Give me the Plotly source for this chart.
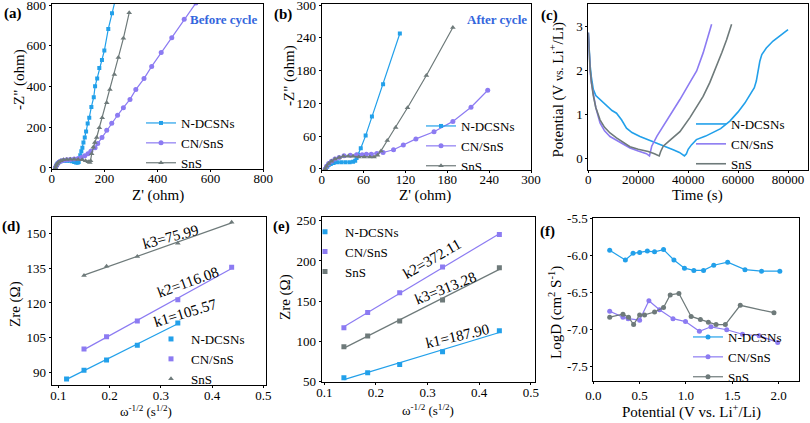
import plotly.graph_objects as go
import numpy as np

W, H = 810, 423
BLUE = "#22A0EA"
PURPLE = "#8C7BF2"
GRAY = "#6E7A7A"
FONT = "Liberation Serif, Times New Roman, serif"
NAMES = ["N-DCSNs", "CN/SnS", "SnS"]

# ---------------- (a) Nyquist, before cycle ----------------
a_ndcsns_x = [14, 16, 19, 23, 28, 34, 41, 49, 58, 67, 76, 85, 92, 98, 102, 105, 108, 112, 116, 120, 125, 130, 136, 142, 150, 159, 164, 172, 180, 190, 199, 214, 228, 245]
a_ndcsns_y = [0, 8, 16, 23, 29, 33, 35, 36, 36, 35, 33, 30, 27, 26, 30, 45, 62, 82, 100, 125, 150, 179, 218, 247, 300, 348, 401, 440, 491, 530, 577, 683, 760, 850]
a_cnsns_x = [14, 17, 21, 27, 35, 45, 57, 70, 85, 100, 113, 125, 137, 148, 164, 174, 190, 208, 227, 249, 271, 296, 318, 349, 378, 414, 454, 501, 545]
a_cnsns_y = [0, 10, 20, 28, 34, 38, 40, 42, 44, 46, 52, 60, 70, 82, 100, 120, 150, 185, 220, 259, 296, 337, 385, 439, 499, 567, 640, 731, 810]
a_sns_x = [14, 17, 21, 27, 35, 45, 57, 70, 85, 100, 115, 128, 138, 144, 147, 151, 157, 163, 170, 180, 191, 208, 220, 237, 252, 271, 293]
a_sns_y = [0, 12, 22, 30, 36, 40, 42, 43, 43, 42, 40, 36, 31, 27, 35, 70, 102, 125, 150, 198, 247, 320, 385, 459, 543, 637, 762]

# ---------------- (b) Nyquist, after cycle ----------------
b_ndcsns_x = [6, 8, 10, 13, 17, 22, 28, 34, 40, 45, 48, 50, 52, 56, 63, 72, 88, 112]
b_ndcsns_y = [0, 4, 7, 9, 11, 12, 12, 12, 12, 13, 15, 20, 26, 38, 61, 96, 155, 248]
b_cnsns_x = [5, 7, 10, 14, 19, 25, 32, 41, 50, 58, 64, 71, 79, 88, 103, 117, 135, 161, 188, 214, 238]
b_cnsns_y = [0, 5, 10, 14, 18, 21, 24, 25, 26, 26, 27, 27, 28, 30, 35, 44, 55, 68, 87, 113, 144]
b_sns_x = [5, 7, 10, 14, 19, 25, 31, 38, 45, 53, 61, 69, 75, 80, 85, 94, 106, 123, 150, 188]
b_sns_y = [0, 5, 10, 14, 18, 21, 23, 23, 23, 22, 22, 22, 22, 25, 33, 52, 76, 112, 171, 259]

# ---------------- (c) GITT potential vs time ----------------
c_ndcsns_t = [0, 300, 700, 1200, 2000, 3000, 4700, 7300, 9500, 11300, 13300, 15300, 17500, 20700, 24000, 27300, 31000, 34000, 36500, 38500, 39300, 40000, 41300, 43300, 47000, 50000, 53000, 56700, 60000, 62700, 65000, 66500, 67300, 68000, 68700, 69500, 71300, 74000, 77000, 80000]
c_ndcsns_v = [2.85, 2.4, 2.12, 1.85, 1.56, 1.42, 1.33, 1.18, 1.08, 1.02, 0.87, 0.68, 0.58, 0.49, 0.42, 0.34, 0.26, 0.19, 0.13, 0.05, 0.1, 0.2, 0.3, 0.42, 0.5, 0.58, 0.67, 0.84, 1.05, 1.25, 1.45, 1.6, 1.75, 2.0, 2.2, 2.35, 2.5, 2.66, 2.8, 2.92]
c_cnsns_t = [0, 300, 700, 1200, 2000, 3000, 4700, 6500, 8700, 11300, 14000, 16700, 20000, 23300, 24500, 25400, 27500, 30000, 33000, 36700, 40700, 43400, 46000, 48000, 49400]
c_cnsns_v = [2.85, 2.4, 2.0, 1.72, 1.5, 1.15, 0.8, 0.62, 0.49, 0.4, 0.31, 0.23, 0.16, 0.1, 0.05, 0.27, 0.5, 0.72, 1.0, 1.33, 1.72, 1.98, 2.39, 2.75, 3.04]
c_sns_t = [0, 300, 700, 1200, 2000, 3000, 4700, 6500, 8700, 11300, 14000, 16700, 20000, 24000, 26500, 28400, 29000, 30000, 33000, 36700, 40700, 43400, 46000, 48700, 51400, 53500, 55400, 57400]
c_sns_v = [2.85, 2.4, 2.05, 1.75, 1.42, 1.15, 0.87, 0.7, 0.57, 0.46, 0.35, 0.26, 0.2, 0.15, 0.1, 0.05, 0.15, 0.27, 0.42, 0.6, 0.92, 1.15, 1.4, 1.72, 2.09, 2.4, 2.69, 3.04]

# ---------------- (d) Zre vs w^-1/2, before cycle ----------------
d_ndcsns_x = [0.116, 0.150, 0.194, 0.254, 0.333]
d_ndcsns_y = [87.3, 91.0, 95.5, 101.8, 111.4]
d_cnsns_x = [0.150, 0.194, 0.254, 0.333, 0.438]
d_cnsns_y = [100.2, 105.5, 112.2, 121.4, 135.4]
d_sns_x = [0.150, 0.194, 0.254, 0.333, 0.438]
d_sns_y = [131.8, 135.8, 140.0, 145.7, 154.7]
d_slopes = ["k1=105.57", "k2=116.08", "k3=75.99"]

# ---------------- (e) Zre vs w^-1/2, after cycle ----------------
e_x = [0.138, 0.184, 0.246, 0.329, 0.439]
e_ndcsns_y = [55.0, 61.2, 71.5, 87.3, 113.4]
e_cnsns_y = [117.1, 136.1, 160.6, 192.4, 233.0]
e_sns_y = [93.5, 106.7, 125.4, 151.4, 191.6]
e_slopes = ["k1=187.90", "k2=372.11", "k3=313.28"]

# ---------------- (f) LogD vs potential ----------------
f_ndcsns_x = [0.177, 0.346, 0.429, 0.50, 0.583, 0.661, 0.758, 0.87, 0.984, 1.085, 1.19, 1.30, 1.45, 1.637, 1.816, 2.013]
f_ndcsns_y = [-5.93, -6.06, -5.97, -5.96, -5.94, -5.95, -5.92, -6.06, -6.17, -6.20, -6.20, -6.13, -6.09, -6.19, -6.21, -6.21]
f_cnsns_x = [0.177, 0.32, 0.376, 0.50, 0.60, 0.715, 0.86, 0.995, 1.145, 1.27, 1.44, 1.61, 1.79, 1.99]
f_cnsns_y = [-6.75, -6.83, -6.85, -6.87, -6.61, -6.73, -6.85, -6.89, -7.02, -6.96, -7.00, -7.06, -7.08, -7.17]
f_sns_x = [0.177, 0.32, 0.38, 0.435, 0.50, 0.553, 0.661, 0.758, 0.83, 0.924, 1.056, 1.156, 1.242, 1.325, 1.425, 1.586, 1.95]
f_sns_y = [-6.83, -6.79, -6.83, -6.93, -6.80, -6.80, -6.76, -6.70, -6.53, -6.51, -6.82, -6.86, -6.90, -6.93, -6.93, -6.67, -6.77]
f_yticks = [-5.5, -6.0, -6.5, -7.0, -7.5]
f_yticktext = ["-5.5", "-6.0", "-6.5", "-7.0", "-7.5"]

COLORS = [BLUE, PURPLE, GRAY]


def fx(px):
    return px / W


def fy(py):
    return 1 - py / H


fig = go.Figure()

# panel boxes in pixels: (left, right, top, bottom)
boxes = {
    1: (51.7, 263.3, 3.5, 169.0),
    2: (321.7, 531.0, 4.0, 170.0),
    3: (588.3, 808.0, 4.0, 170.0),
    4: (51.7, 266.0, 216.7, 385.0),
    5: (321.7, 535.0, 216.7, 381.7),
    6: (593.3, 799.0, 217.7, 381.0),
}
x_standoff = {1: -5, 2: -5, 3: -5, 4: -4, 5: -3, 6: 0}


def ax_names(i):
    return ("x" if i == 1 else f"x{i}"), ("y" if i == 1 else f"y{i}")


def add_lm(i, xs, ys, color, symbol, size, name, legend, width=1.2):
    xa, ya = ax_names(i)
    fig.add_trace(go.Scatter(x=xs, y=ys, mode="lines+markers", name=name,
                             line=dict(color=color, width=width),
                             marker=dict(symbol=symbol, size=size, color=color),
                             xaxis=xa, yaxis=ya, legend=legend))


# (a)
add_lm(1, a_ndcsns_x, a_ndcsns_y, BLUE, "square", 4, NAMES[0], "legend")
add_lm(1, a_cnsns_x, a_cnsns_y, PURPLE, "circle", 5, NAMES[1], "legend")
add_lm(1, a_sns_x, a_sns_y, GRAY, "triangle-up", 5, NAMES[2], "legend")
# (b)
add_lm(2, b_ndcsns_x, b_ndcsns_y, BLUE, "square", 4, NAMES[0], "legend2")
add_lm(2, b_cnsns_x, b_cnsns_y, PURPLE, "circle", 5, NAMES[1], "legend2")
add_lm(2, b_sns_x, b_sns_y, GRAY, "triangle-up", 5, NAMES[2], "legend2")
# (c)
for t, v, c, n in [(c_ndcsns_t, c_ndcsns_v, BLUE, NAMES[0]), (c_cnsns_t, c_cnsns_v, PURPLE, NAMES[1]), (c_sns_t, c_sns_v, GRAY, NAMES[2])]:
    fig.add_trace(go.Scatter(x=t, y=v, mode="lines", name=n, line=dict(color=c, width=1.6),
                             xaxis="x3", yaxis="y3", legend="legend3"))

# (d) and (e): points + linear fits
for i, sets, leg, syms in [
    (4, [(d_ndcsns_x, d_ndcsns_y), (d_cnsns_x, d_cnsns_y), (d_sns_x, d_sns_y)], "legend4", ["square", "square", "triangle-up"]),
    (5, [(e_x, e_ndcsns_y), (e_x, e_cnsns_y), (e_x, e_sns_y)], "legend5", ["square", "square", "square"]),
]:
    xa, ya = ax_names(i)
    for (xs, ys), c, n, s in zip(sets, COLORS, NAMES, syms):
        k, b0 = np.polyfit(xs, ys, 1)
        xl = np.array([min(xs), max(xs)])
        fig.add_trace(go.Scatter(x=xl, y=k * xl + b0, mode="lines", line=dict(color=c, width=1.2),
                                 showlegend=False, xaxis=xa, yaxis=ya, hoverinfo="skip"))
    for (xs, ys), c, n, s in zip(sets, COLORS, NAMES, syms):
        fig.add_trace(go.Scatter(x=xs, y=ys, mode="markers", name=n,
                                 marker=dict(symbol=s, size=5, color=c),
                                 xaxis=xa, yaxis=ya, legend=leg))

# (f)
add_lm(6, f_ndcsns_x, f_ndcsns_y, BLUE, "circle", 5, NAMES[0], "legend6")
add_lm(6, f_cnsns_x, f_cnsns_y, PURPLE, "circle", 5, NAMES[1], "legend6")
add_lm(6, f_sns_x, f_sns_y, GRAY, "circle", 5, NAMES[2], "legend6")

tickfont = dict(family=FONT, size=13, color="black")
base = dict(showline=True, mirror=True, linecolor="black", linewidth=1, ticks="outside",
            ticklen=2, tickcolor="black", tickfont=tickfont, showgrid=False, zeroline=False,
            automargin=False, ticklabeloverflow="allow")

ranges = {
    1: dict(x=dict(range=[0, 800], tickvals=[0, 200, 400, 600, 800]),
            y=dict(range=[-5, 808], tickvals=[0, 200, 400, 600, 800])),
    2: dict(x=dict(range=[0, 300], tickvals=[0, 60, 120, 180, 240, 300]),
            y=dict(range=[-2, 302], tickvals=[0, 60, 120, 180, 240, 300])),
    3: dict(x=dict(range=[0, 88000], tickvals=[0, 20000, 40000, 60000, 80000], tickformat="d"),
            y=dict(range=[-0.27, 3.5], tickvals=[0, 1, 2, 3])),
    4: dict(x=dict(range=[0.087, 0.505], tickvals=[0.1, 0.2, 0.3, 0.4, 0.5]),
            y=dict(range=[84.7, 157.1], tickvals=[90, 105, 120, 135, 150])),
    5: dict(x=dict(range=[0.095, 0.508], tickvals=[0.1, 0.2, 0.3, 0.4, 0.5]),
            y=dict(range=[50, 255], tickvals=[50, 100, 150, 200, 250])),
    6: dict(x=dict(range=[0.0, 2.22], tickvals=[0.0, 0.5, 1.0, 1.5, 2.0], tickformat=".1f"),
            y=dict(range=[-7.69, -5.49], tickvals=f_yticks, ticktext=f_yticktext)),
}

layout = dict(width=W, height=H, margin=dict(l=0, r=0, t=0, b=0, autoexpand=False),
              paper_bgcolor="white", plot_bgcolor="white", showlegend=True,
              font=dict(family=FONT, color="black"))
for i, (l, r, t, b) in boxes.items():
    xa, ya = ax_names(i)
    xk = "xaxis" if i == 1 else f"xaxis{i}"
    yk = "yaxis" if i == 1 else f"yaxis{i}"
    layout[xk] = dict(base, domain=[fx(l), fx(r)], anchor=ya, ticklabelstandoff=x_standoff[i], **ranges[i]["x"])
    layout[yk] = dict(base, domain=[fy(b), fy(t)], anchor=xa, **ranges[i]["y"])

legfont = dict(family=FONT, size=13, color="black")
leg_pos = {
    "legend": (141, 143),
    "legend2": (421, 146),
    "legend3": (691, 144),
    "legend4": (151, 359),
    "legend5": (305, 251.7),
    "legend6": (688, 357),
}
for k, (lx, ly) in leg_pos.items():
    layout[k] = dict(x=fx(lx), y=fy(ly), xanchor="left", yanchor="middle", font=legfont,
                     bgcolor="rgba(0,0,0,0)", itemwidth=30, tracegroupgap=0)

fig.update_layout(**layout)

ann = []


def text(x, y, s, size, angle=0, bold=False, color="black"):
    ann.append(dict(x=fx(x), y=fy(y), xref="paper", yref="paper", text=(f"<b>{s}</b>" if bold else s),
                    showarrow=False, textangle=angle, xanchor="center", yanchor="middle",
                    font=dict(family=FONT, size=size, color=color)))


# panel labels
for lab, x, y in [("(a)", 12.5, 13), ("(b)", 282.5, 14), ("(c)", 549, 15), ("(d)", 11, 226), ("(e)", 281.5, 226), ("(f)", 547, 231)]:
    text(x, y, lab, 15, bold=True)

text(223, 20, "Before cycle", 13, bold=True, color="#3366DD")
text(496.7, 20, "After cycle", 13, bold=True, color="#3366DD")

# axis titles
text(158, 195, "Z' (ohm)", 15)
text(425, 195, "Z' (ohm)", 15)
text(697, 195, "Time (s)", 15)
text(19, 80, '-Z" (ohm)', 15, angle=-90)
text(289, 76, '-Z" (ohm)', 15, angle=-90)
text(557.5, 90, "Potential (V <span style='font-size:12px'>vs.</span> Li<sup>+</sup>/Li)", 15, angle=-90)
text(145.7, 411, "ω<sup>-1/2</sup> (s<sup>1/2</sup>)", 13)
text(428, 410, "ω<sup>-1/2</sup> (s<sup>1/2</sup>)", 13)
text(691, 411, "Potential (V vs. Li<sup>+</sup>/Li)", 15)
text(15, 304, "Zre (Ω)", 15, angle=-90)
text(285.5, 297.5, "Zre (Ω)", 15, angle=-90)
text(555, 313, "LogD (cm<sup>2</sup> S<sup>-1</sup>)", 15, angle=-90)

# slope labels
text(185, 313.3, d_slopes[0], 15, angle=-17)
text(188.3, 282.3, d_slopes[1], 15, angle=-20)
text(170, 237.3, d_slopes[2], 15, angle=-15)
text(457.3, 335.7, e_slopes[0], 15, angle=-13)
text(431.7, 259, e_slopes[1], 15, angle=-30)
text(445.7, 287.7, e_slopes[2], 15, angle=-22)

fig.update_layout(annotations=ann)
fig.write_html("out.html", config={"displayModeBar": False},
               post_script="document.body.style.margin='0px';")
